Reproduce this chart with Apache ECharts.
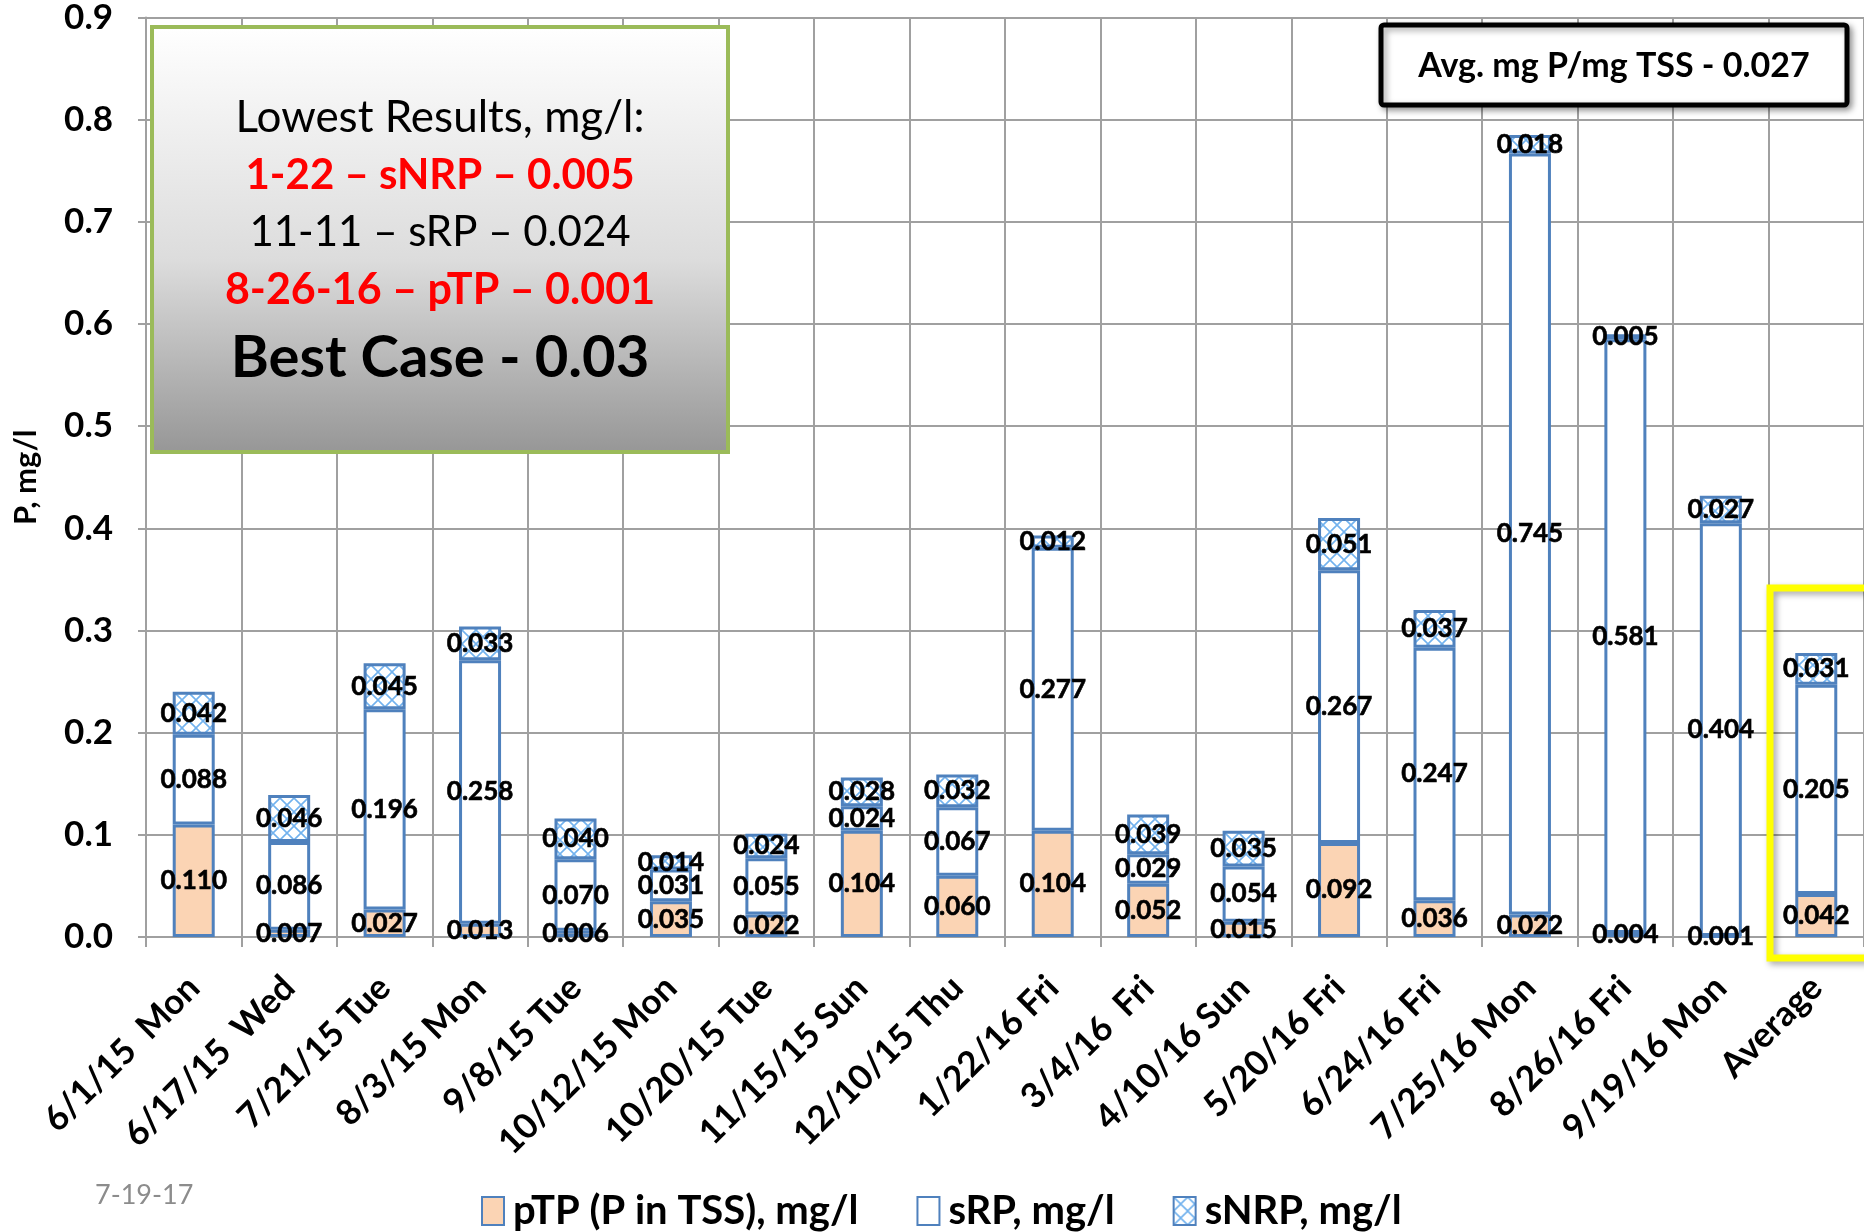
<!DOCTYPE html>
<html>
<head>
<meta charset="utf-8">
<script src="https://cdn.jsdelivr.net/npm/echarts@6/dist/echarts.min.js"></script>
<style>
html,body{margin:0;padding:0;background:#fff;}
#chart{width:1864px;height:1232px;}
</style>
</head>
<body>
<div id="chart"></div>
<script>
var categories = ['6/1/15  Mon','6/17/15  Wed','7/21/15 Tue','8/3/15 Mon','9/8/15 Tue','10/12/15 Mon','10/20/15 Tue','11/15/15 Sun','12/10/15 Thu','1/22/16 Fri','3/4/16  Fri','4/10/16 Sun','5/20/16 Fri','6/24/16 Fri','7/25/16 Mon','8/26/16 Fri','9/19/16 Mon','Average'];
var pTP  = [0.110,0.007,0.027,0.013,0.006,0.035,0.022,0.104,0.060,0.104,0.052,0.015,0.092,0.036,0.022,0.004,0.001,0.042];
var sRP  = [0.088,0.086,0.196,0.258,0.070,0.031,0.055,0.024,0.067,0.277,0.029,0.054,0.267,0.247,0.745,0.581,0.404,0.205];
var sNRP = [0.042,0.046,0.045,0.033,0.040,0.014,0.024,0.028,0.032,0.012,0.039,0.035,0.051,0.037,0.018,0.005,0.027,0.031];
var yTicks = [0,0.1,0.2,0.3,0.4,0.5,0.6,0.7,0.8,0.9];
var seriesNames = ['pTP (P in TSS), mg/l','sRP, mg/l','sNRP, mg/l'];

var FONT = 'Lato';
var BLUE = '#4F81BD';

// hatch pattern for sNRP
var pc = document.createElement('canvas');
pc.width = 14; pc.height = 14;
var g = pc.getContext('2d');
g.fillStyle = '#ffffff'; g.fillRect(0,0,14,14);
g.strokeStyle = '#72b2ee'; g.lineWidth = 1.6;
g.beginPath();
g.moveTo(-1,-1); g.lineTo(15,15);
g.moveTo(15,-1); g.lineTo(-1,15);
g.stroke();

function lbl(){
  return {show:true, position:'inside', color:'#000', fontFamily:FONT, fontWeight:'bold', fontSize:26,
    textBorderColor:'#000', textBorderWidth:0.6,
    formatter:function(p){return p.value.toFixed(3);}};
}

var chart = echarts.init(document.getElementById('chart'), null, {renderer:'canvas'});
chart.setOption({
  animation:false,
  backgroundColor:'#ffffff',
  grid:{left:146, right:0, top:17, bottom:295, containLabel:false},
  legend:{
    left:476, top:1186, itemWidth:22, itemHeight:28, itemGap:58,
    icon:'rect',
    textStyle:{fontFamily:FONT, fontWeight:'bold', fontSize:40, color:'#000', padding:[0,0,0,4]},
    data:seriesNames
  },
  xAxis:{
    type:'category', data:categories,
    axisLine:{show:true, lineStyle:{color:'#a0a0a0', width:2}},
    axisTick:{show:true, length:10, lineStyle:{color:'#a0a0a0', width:2}},
    splitLine:{show:true, lineStyle:{color:'#a0a0a0', width:2}},
    axisLabel:{interval:0, rotate:45, margin:45, fontFamily:FONT, fontWeight:'bold', fontSize:35, color:'#000'}
  },
  yAxis:{
    type:'value', min:0, max:0.9, interval:0.1,
    name:'P, mg/l', nameLocation:'middle', nameGap:105, nameRotate:90,
    nameTextStyle:{fontFamily:FONT, fontWeight:'bold', fontSize:31, color:'#000'},
    axisLine:{show:true, lineStyle:{color:'#a0a0a0', width:2}},
    axisTick:{show:true, length:8, lineStyle:{color:'#a0a0a0', width:2}},
    splitLine:{show:true, lineStyle:{color:'#a0a0a0', width:2}},
    axisLabel:{margin:33, fontFamily:FONT, fontWeight:'bold', fontSize:35, color:'#000',
      formatter:function(v){return v.toFixed(1);}}
  },
  series:[
    {name:seriesNames[0], type:'bar', stack:'t', data:pTP, barWidth:42,
     itemStyle:{color:'#FBD4B4', borderColor:BLUE, borderWidth:3}, label:lbl()},
    {name:seriesNames[1], type:'bar', stack:'t', data:sRP, barWidth:42,
     itemStyle:{color:'#ffffff', borderColor:BLUE, borderWidth:3}, label:lbl()},
    {name:seriesNames[2], type:'bar', stack:'t', data:sNRP, barWidth:42,
     itemStyle:{color:{image:pc, repeat:'repeat'}, borderColor:BLUE, borderWidth:3}, label:lbl()}
  ],
  graphic:[
    {type:'rect', z:100, shape:{x:152, y:27, width:576, height:425},
     style:{fill:new echarts.graphic.LinearGradient(0,0,0,1,[
        {offset:0,color:'#ffffff'},{offset:0.55,color:'#dcdcdc'},{offset:1,color:'#969696'}]),
       stroke:'#9BBB59', lineWidth:4}},
    {type:'text', z:101, x:440, y:118, style:{text:'Lowest Results, mg/l:', fontFamily:FONT, fontSize:44, fill:'#000', align:'center', verticalAlign:'middle'}},
    {type:'text', z:101, x:440, y:175, style:{text:'1-22 – sNRP – 0.005', fontFamily:FONT, fontWeight:'bold', fontSize:42, fill:'#ff0000', align:'center', verticalAlign:'middle'}},
    {type:'text', z:101, x:440, y:232, style:{text:'11-11 – sRP – 0.024', fontFamily:FONT, fontSize:42, fill:'#000', align:'center', verticalAlign:'middle'}},
    {type:'text', z:101, x:440, y:290, style:{text:'8-26-16 – pTP – 0.001', fontFamily:FONT, fontWeight:'bold', fontSize:43, fill:'#ff0000', align:'center', verticalAlign:'middle'}},
    {type:'text', z:101, x:440, y:358, style:{text:'Best Case - 0.03', fontFamily:FONT, fontWeight:'bold', fontSize:58, fill:'#000', align:'center', verticalAlign:'middle'}},
    {type:'rect', z:100, shape:{x:1381, y:25, width:466, height:80, r:3},
     style:{fill:'#ffffff', stroke:'#000', lineWidth:5, shadowBlur:6, shadowOffsetX:3, shadowOffsetY:3, shadowColor:'rgba(0,0,0,0.35)'}},
    {type:'text', z:101, x:1614, y:66, style:{text:'Avg. mg P/mg TSS - 0.027', fontFamily:FONT, fontWeight:'bold', fontSize:34, fill:'#000', align:'center', verticalAlign:'middle'}},
    {type:'rect', z:100, shape:{x:1770, y:588, width:110, height:370},
     style:{fill:'none', stroke:'#FFFF00', lineWidth:7, shadowBlur:6, shadowOffsetX:3, shadowOffsetY:3, shadowColor:'rgba(0,0,0,0.35)'}},
    {type:'text', z:101, x:95, y:1195, style:{text:'7-19-17', fontFamily:FONT, fontSize:27, fill:'#8c8c8c', align:'left', verticalAlign:'middle'}}
  ]
});
</script>
</body>
</html>
